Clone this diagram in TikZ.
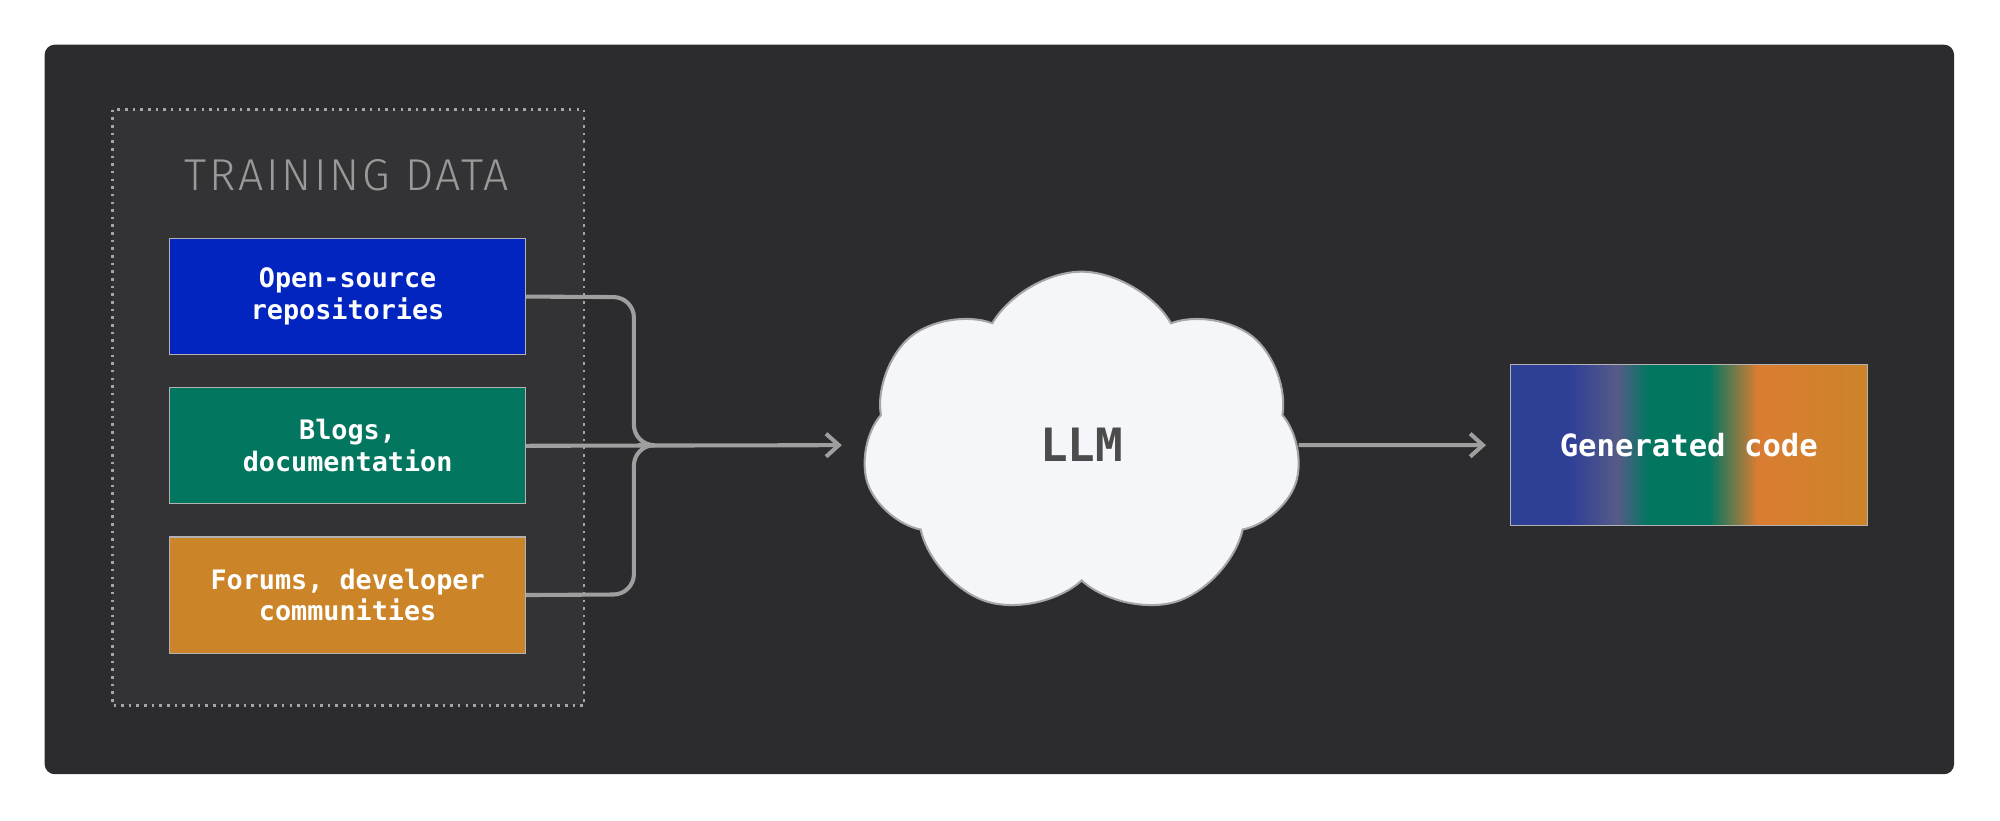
\documentclass[tikz,border=0pt]{standalone}
\usepackage{fontspec}
\setmainfont{Fira Sans}
\newfontfamily\titlef[LetterSpace=6]{Fira Sans Light}
\newfontfamily\monob{DejaVu Sans Mono}
\usetikzlibrary{shapes.symbols,arrows.meta}
\definecolor{panel}{HTML}{2C2B2D}
\definecolor{inner}{HTML}{333335}
\definecolor{cblue}{HTML}{0325BF}
\definecolor{cgreen}{HTML}{037660}
\definecolor{corange}{HTML}{CC8428}
\definecolor{cloudf}{HTML}{F4F6FA}
\definecolor{gb}{HTML}{2E3F96}
\definecolor{gs}{HTML}{565B88}
\definecolor{go}{HTML}{DA7D33}
\begin{document}
\begin{tikzpicture}[x=0.5pt,y=-0.5pt,
  src/.style={draw=gray!60,line width=0.4pt,minimum width=139.5pt,minimum height=45.5pt,align=center,text=white,font=\monob\bfseries\fontsize{10.5}{12.5}\selectfont},
  conn/.style={draw=gray!75,line width=1.6pt,rounded corners=8pt},
  arr/.style={conn,-{Straight Barb[length=5pt,width=9pt]}}]
\useasboundingbox (0,0) rectangle (1568,643);
\fill[white] (0,0) rectangle (1568,643);
\fill[panel,rounded corners=4pt] (35,35) rectangle (1532,607);
\fill[inner] (88,86) rectangle (458,553);
\draw[gray!70,dotted,line width=1pt] (88,86) rectangle (458,553);
\node[text=gray!80,font=\titlef\fontsize{17.5}{20}\selectfont] (title) at (272,137) {TRAINING DATA};
\node[src,fill=cblue] (a) at (272.5,232.5) {Open-source\\repositories};
\node[src,fill=cgreen] (b) at (272.5,349.5) {Blogs,\\documentation};
\node[src,fill=corange] (c) at (272.5,466.5) {Forums, developer\\communities};
\node[cloud,cloud puffs=7,cloud puff arc=120,aspect=1.3,fill=cloudf,draw=gray!70,line width=0.8pt,minimum width=172pt,minimum height=136pt,font=\monob\bfseries\fontsize{18}{20}\selectfont,text=black!70] (llm) at (848,349) {LLM};
\coordinate (m) at (500,349);
\draw[conn] (a.east) -- (497,233) -- (497,349) -- (m);
\draw[conn] (c.east) -- (497,466) -- (497,349) -- (m);
\draw[arr] (b.east) -- (660,349);
\draw[arr] (llm.east) -- (1165,349);
\shade[left color=gb,right color=gb] (1184,286) rectangle (1230,412);
\shade[left color=gb,right color=gs] (1230,286) rectangle (1268,412);
\shade[left color=gs,right color=cgreen] (1268,286) rectangle (1292,412);
\fill[cgreen] (1292,286) rectangle (1340,412);
\shade[left color=cgreen,right color=go] (1340,286) rectangle (1378,412);
\shade[left color=go,right color=corange] (1378,286) rectangle (1464,412);
\node[draw=gray!60,line width=0.4pt,minimum width=140pt,minimum height=63pt,text=white,font=\monob\bfseries\fontsize{12}{14}\selectfont] (gen) at (1324,349) {Generated code};
\end{tikzpicture}
\end{document}
